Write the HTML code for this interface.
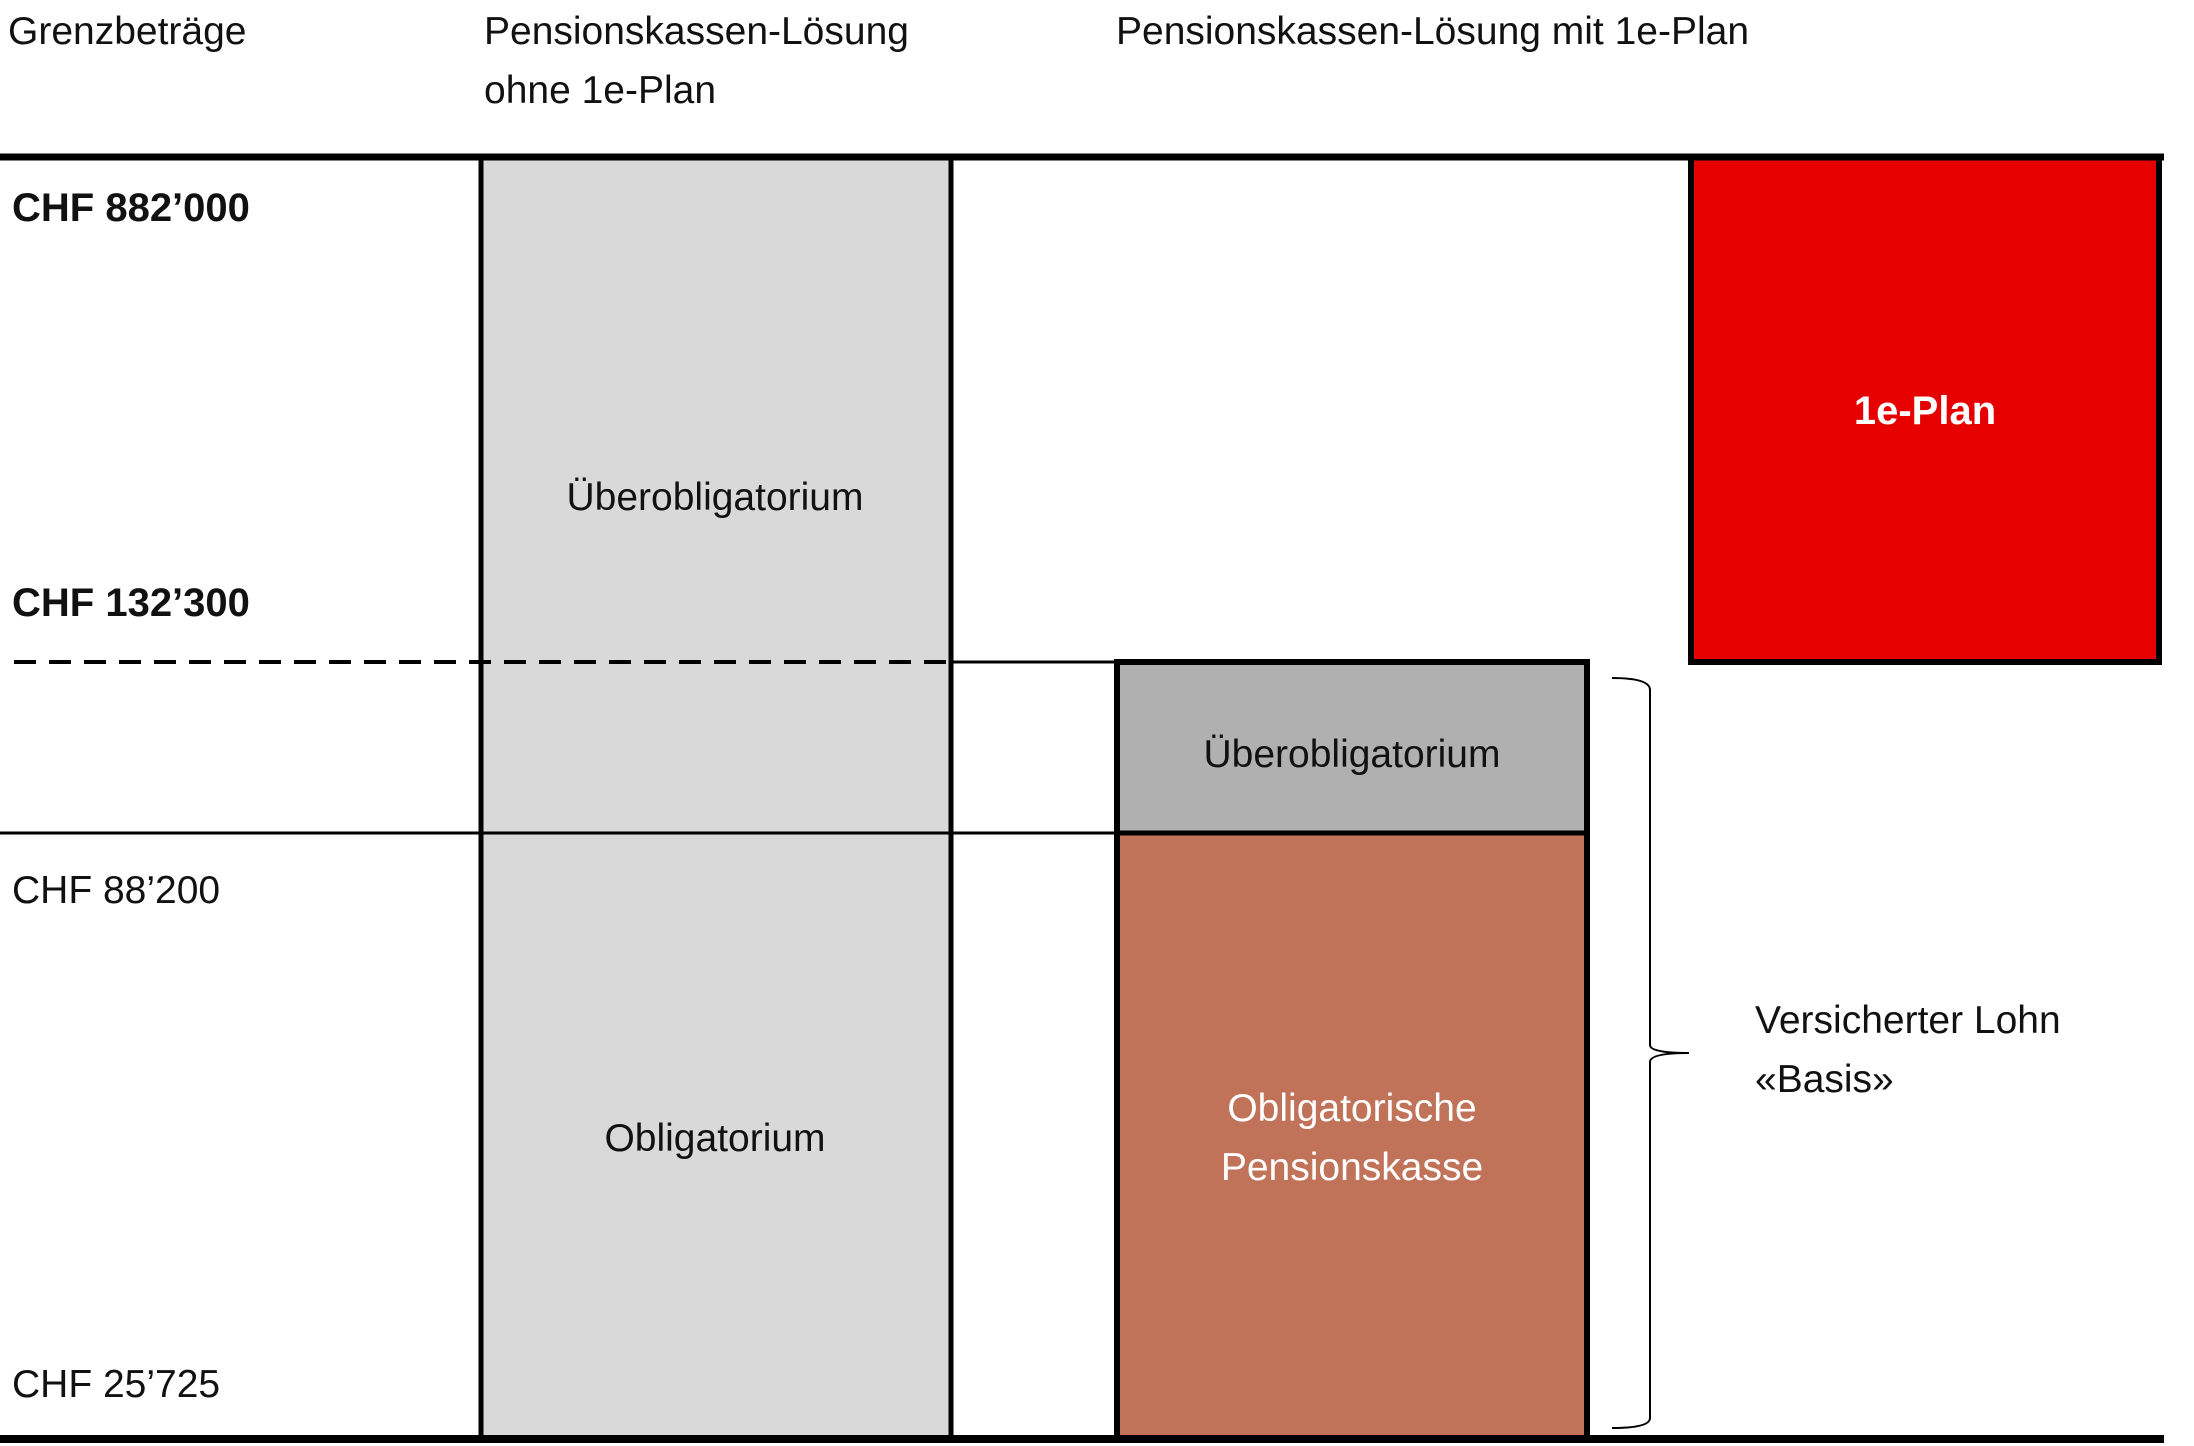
<!DOCTYPE html>
<html><head><meta charset="utf-8"><style>
html,body{margin:0;padding:0;background:#fff;}
svg{display:block;}
text{font-family:"Liberation Sans",sans-serif;font-size:39px;fill:#111;}
</style></head><body>
<svg width="2194" height="1446" viewBox="0 0 2194 1446" xmlns="http://www.w3.org/2000/svg">
<rect x="481" y="155" width="470" height="1284" fill="#d9d9d9"/>
<rect x="1117" y="662" width="470" height="171" fill="#b0b0b0"/>
<rect x="1117" y="833" width="470" height="606" fill="#c07359"/>
<rect x="1691" y="157" width="468" height="505" fill="#e60000" stroke="#000" stroke-width="6"/>
<line x1="0" y1="157" x2="2164" y2="157" stroke="#000" stroke-width="7"/>
<line x1="0" y1="1439" x2="2164" y2="1439" stroke="#000" stroke-width="8"/>
<line x1="481" y1="157" x2="481" y2="1439" stroke="#000" stroke-width="5"/>
<line x1="951" y1="157" x2="951" y2="1439" stroke="#000" stroke-width="5"/>
<line x1="14" y1="662" x2="951" y2="662" stroke="#000" stroke-width="4" stroke-dasharray="22,13"/>
<line x1="951" y1="662" x2="1117" y2="662" stroke="#000" stroke-width="3"/>
<line x1="0" y1="833" x2="1117" y2="833" stroke="#000" stroke-width="3"/>
<rect x="1117" y="662" width="470" height="777" fill="none" stroke="#000" stroke-width="6"/>
<line x1="1117" y1="833" x2="1587" y2="833" stroke="#000" stroke-width="5"/>
<path d="M1612 678 Q1650 678 1650 690 L1650 1045 Q1650 1053 1689 1053 Q1650 1053 1650 1062 L1650 1418 Q1650 1428 1612 1428" fill="none" stroke="#000" stroke-width="2"/>
<text x="8" y="44">Grenzbeträge</text>
<text x="484" y="44">Pensionskassen-Lösung</text>
<text x="484" y="103">ohne 1e-Plan</text>
<text x="1116" y="44">Pensionskassen-Lösung mit 1e-Plan</text>
<text x="12" y="221" font-weight="bold" style="font-size:40px">CHF 882’000</text>
<text x="12" y="616" font-weight="bold" style="font-size:40px">CHF 132’300</text>
<text x="12" y="903">CHF 88’200</text>
<text x="12" y="1397">CHF 25’725</text>
<text x="715" y="510" text-anchor="middle">Überobligatorium</text>
<text x="715" y="1151" text-anchor="middle">Obligatorium</text>
<text x="1352" y="767" text-anchor="middle">Überobligatorium</text>
<text x="1352" y="1121" text-anchor="middle" style="fill:#fff">Obligatorische</text>
<text x="1352" y="1180" text-anchor="middle" style="fill:#fff">Pensionskasse</text>
<text x="1925" y="424" text-anchor="middle" font-weight="bold" style="fill:#fff;font-size:40px">1e-Plan</text>
<text x="1755" y="1033">Versicherter Lohn</text>
<text x="1755" y="1092">«Basis»</text>
</svg>
</body></html>
